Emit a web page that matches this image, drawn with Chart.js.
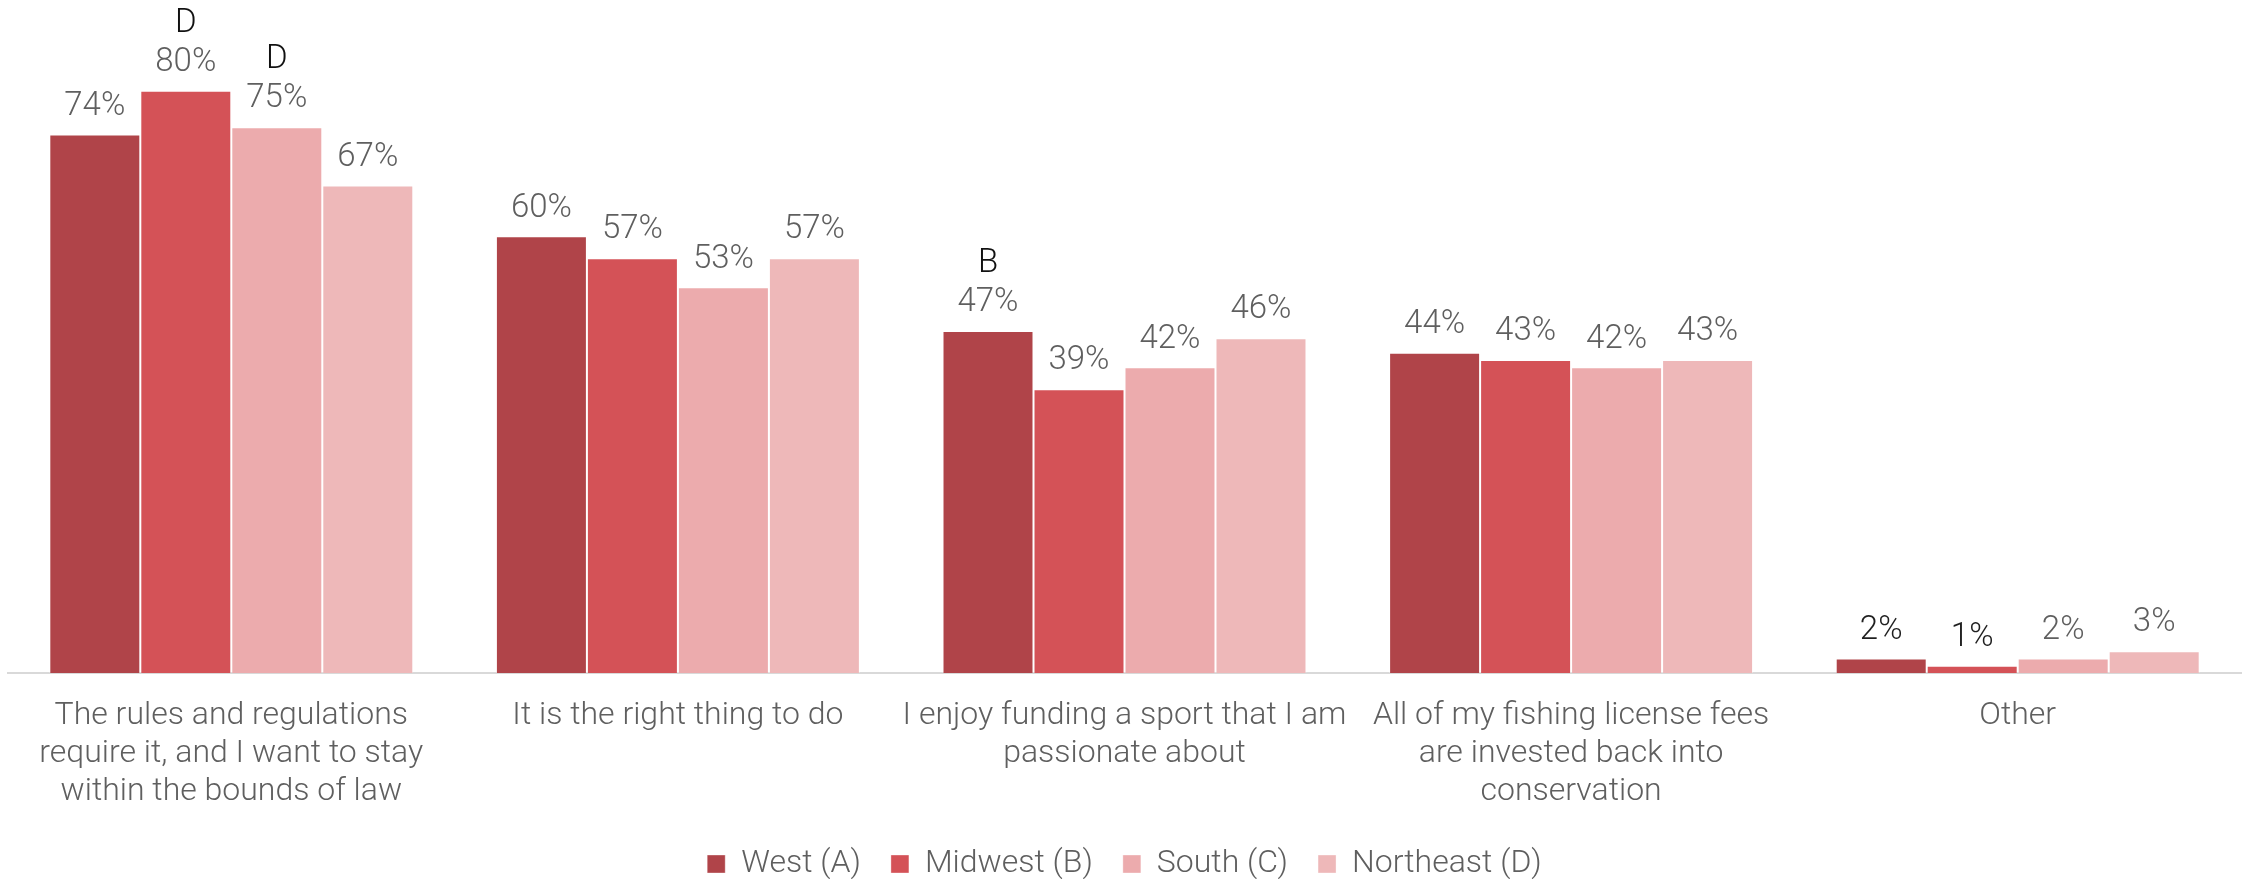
<!DOCTYPE html>
<html>
<head>
<meta charset="utf-8">
<script src="https://cdn.jsdelivr.net/npm/chart.js@4"></script>
<style>
  html, body { margin: 0; padding: 0; background: #ffffff; }
  #wrap { width: 2246px; height: 879px; position: relative; }
</style>
</head>
<body>
<div id="wrap"><canvas id="c" width="2246" height="879"></canvas></div>
<script>
const categories = [
  ["The rules and regulations", "require it, and I want to stay", "within the bounds of law"],
  ["It is the right thing to do"],
  ["I enjoy funding a sport that I am", "passionate about"],
  ["All of my fishing license fees", "are invested back into", "conservation"],
  ["Other"]
];
const seriesNames = ["West (A)", "Midwest (B)", "South (C)", "Northeast (D)"];
const west      = [74, 60, 47, 44, 2];
const midwest   = [80, 57, 39, 43, 1];
const south     = [75, 53, 42, 42, 2];
const northeast = [67, 57, 46, 43, 3];
// significance letters shown above value labels
const sigWest      = ["", "", "B", "", ""];
const sigMidwest   = ["D", "", "", "", ""];
const sigSouth     = ["D", "", "", "", ""];
const sigNortheast = ["", "", "", "", ""];

const colors = ["#B04449", "#D45257", "#ECABAD", "#EEB8B9"];
const FONT = "Roboto, 'Noto Sans', sans-serif";

const seriesValues = [west, midwest, south, northeast];
const seriesSig = [sigWest, sigMidwest, sigSouth, sigNortheast];

const labelPlugin = {
  id: 'valueLabels',
  afterDatasetsDraw(chart) {
    const ctx = chart.ctx;
    ctx.save();
    ctx.font = "300 33px " + FONT;
    ctx.textAlign = 'center';
    ctx.textBaseline = 'middle';
    chart.data.datasets.forEach((ds, di) => {
      const meta = chart.getDatasetMeta(di);
      meta.data.forEach((bar, i) => {
        const v = ds.data[i];
        const isOther = i === categories.length - 1;
        ctx.fillStyle = (isOther && di < 2) ? '#1f1f1f' : '#5f5f5f';
        const ly = bar.y - 28;
        ctx.fillText(v + '%', bar.x, ly);
        const s = seriesSig[di][i];
        if (s) {
          ctx.fillStyle = '#111111';
          ctx.fillText(s, bar.x, ly - 39);
        }
      });
    });
    ctx.restore();
  }
};

new Chart(document.getElementById('c'), {
  type: 'bar',
  data: {
    labels: categories,
    datasets: seriesNames.map((n, k) => ({
      label: n,
      data: seriesValues[k],
      backgroundColor: colors[k],
      borderColor: 'rgba(255,255,255,0.35)',
      borderWidth: 1,
      categoryPercentage: 0.815,
      barPercentage: 1.0
    }))
  },
  options: {
    responsive: false,
    animation: false,
    devicePixelRatio: 1,
    layout: { padding: { top: 18, left: 8, right: 5, bottom: 0 } },
    scales: {
      x: {
        grid: { display: true, drawOnChartArea: false, drawTicks: false, color: 'rgba(0,0,0,0)' },
        border: { display: true, color: '#d9d9d9', width: 2 },
        ticks: {
          padding: 24,
          color: '#5f5f5f',
          font: { family: FONT, size: 32, weight: '300', lineHeight: 1.19 },
          maxRotation: 0,
          autoSkip: false
        },
        afterFit: (scale) => { scale.height = 145; }
      },
      y: {
        display: false,
        min: 0,
        max: 90
      }
    },
    plugins: {
      legend: {
        position: 'bottom',
        maxHeight: 61,
        labels: {
          boxWidth: 18,
          boxHeight: 18,
          padding: 30,
          color: '#5f5f5f',
          font: { family: FONT, size: 32, weight: '300' }
        }
      },
      tooltip: { enabled: false },
      title: { display: false }
    }
  },
  plugins: [labelPlugin]
});
</script>
</body>
</html>
